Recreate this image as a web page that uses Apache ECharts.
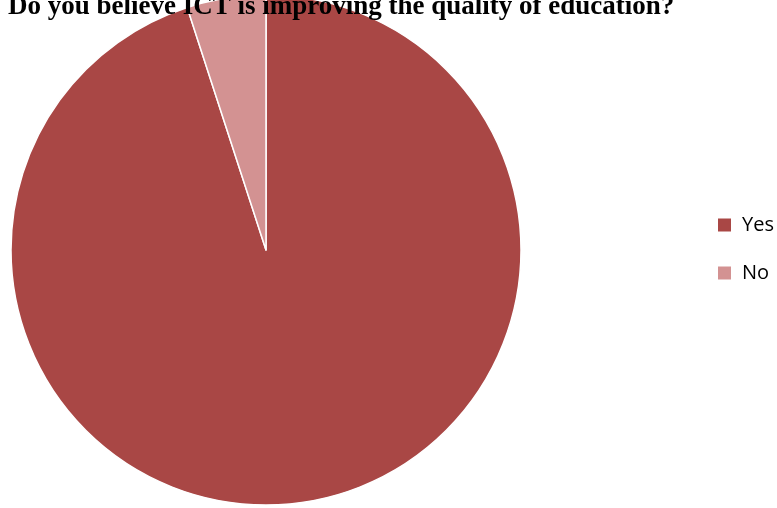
<!DOCTYPE html>
<html><head><meta charset="utf-8">
<script src="https://cdn.jsdelivr.net/npm/echarts@6/dist/echarts.min.js"></script>
<style>html,body{margin:0;padding:0;background:#fff}#c{width:777px;height:508px}</style>
</head><body><div id="c"></div>
<script>
const titleText = "8. Do you believe ICT is improving the quality of education?";
const categories = ["Yes", "No"];
const values = [95, 5];
const colors = ["#A94745", "#D39292"];

const chart = echarts.init(document.getElementById('c'));
chart.setOption({
  animation: false,
  title: {
    text: titleText, left: -19, top: -6, padding: 0,
    textStyle: {fontFamily: "Liberation Serif", fontWeight: "bold", fontSize: 27, color: "#000"}
  },
  legend: {
    orient: 'vertical', left: 716, top: 214, padding: 0,
    itemWidth: 15, itemHeight: 15, itemGap: 26, icon: 'rect',
    textStyle: {fontFamily: "Open Sans", fontSize: 20, lineHeight: 22, color: "#000", padding: [0, 0, 0, 5]},
    data: categories
  },
  series: [{
    type: 'pie', center: [266, 250], radius: 255,
    startAngle: 90, clockwise: true,
    label: {show: false}, labelLine: {show: false},
    itemStyle: {borderColor: '#fff', borderWidth: 1.5},
    data: categories.map((c, i) => ({name: c, value: values[i], itemStyle: {color: colors[i]}}))
  }]
});
</script></body></html>
